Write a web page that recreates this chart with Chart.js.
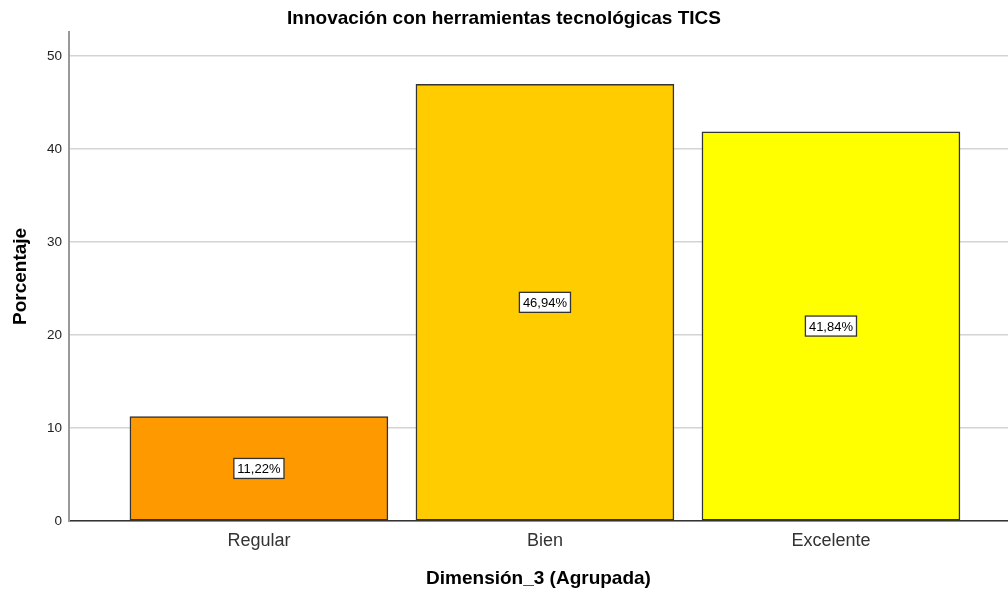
<!DOCTYPE html>
<html>
<head>
<meta charset="utf-8">
<script src="https://cdn.jsdelivr.net/npm/chart.js@4"></script>
<style>
  html, body { margin: 0; padding: 0; background: #fff; }
  #wrap { width: 1008px; height: 591px; }
</style>
</head>
<body>
<div id="wrap"><canvas id="myChart"></canvas></div>
<script>
  const categories = ['Regular', 'Bien', 'Excelente'];
  const percentages = [11.22, 46.94, 41.84];
  const barColors = ['#FF9900', '#FFCC00', '#FFFF00'];
  const yTicks = [0, 10, 20, 30, 40, 50];

  const fontFamily = 'Arial, "Liberation Sans", sans-serif';

  // labels in white boxes in the middle of each bar
  const boxLabels = {
    id: 'boxLabels',
    afterDatasetsDraw(chart) {
      const ctx = chart.ctx;
      const meta = chart.getDatasetMeta(0);
      ctx.save();
      ctx.font = '13px ' + fontFamily;
      ctx.textAlign = 'center';
      ctx.textBaseline = 'middle';
      meta.data.forEach(function (bar, i) {
        const text = percentages[i].toFixed(2).replace('.', ',') + '%';
        const cx = bar.x;
        const cy = (bar.y + bar.base) / 2;
        const w = ctx.measureText(text).width + 7;
        const h = 20;
        ctx.fillStyle = '#fff';
        ctx.fillRect(cx - w / 2, cy - h / 2, w, h);
        ctx.strokeStyle = '#333';
        ctx.lineWidth = 1.3;
        ctx.strokeRect(cx - w / 2, cy - h / 2, w, h);
        ctx.fillStyle = '#000';
        ctx.fillText(text, cx, cy + 1);
      });
      ctx.restore();
    }
  };

  const data = {
    datasets: [{
      label: 'Porcentaje',
      data: categories.map((c, i) => ({ x: i, y: percentages[i] })),
      backgroundColor: barColors,
      borderColor: '#333',
      borderWidth: 1.5,
      borderSkipped: false,
      barThickness: 258
    }]
  };

  const config = {
    type: 'bar',
    data: data,
    options: {
      responsive: true,
      maintainAspectRatio: false,
      animation: false,
      layout: { padding: 0 },
      plugins: {
        legend: { display: false },
        tooltip: { enabled: false },
        title: {
          display: true,
          text: 'Innovación con herramientas tecnológicas TICS',
          color: '#000',
          font: { family: fontFamily, size: 19, weight: 'bold' },
          padding: { top: 7, bottom: 2 }
        }
      },
      scales: {
        x: {
          type: 'linear',
          offset: false,
          min: -0.664,
          max: 2.619,
          afterBuildTicks(scale) {
            scale.ticks = categories.map((c, i) => ({ value: i }));
          },
          afterFit(scale) { scale.height = 70; },
          ticks: {
            color: '#333',
            font: { family: fontFamily, size: 18 },
            padding: 9,
            callback: (v) => categories[v]
          },
          grid: { display: false, drawTicks: false, offset: false },
          border: { display: true, color: '#333', width: 1.5 },
          title: {
            display: true,
            text: 'Dimensión_3 (Agrupada)',
            color: '#000',
            font: { family: fontFamily, size: 19, weight: 'bold' },
            padding: { top: 0, bottom: 1 }
          }
        },
        y: {
          min: 0,
          max: 52.6,
          afterBuildTicks(scale) {
            scale.ticks = yTicks.map(v => ({ value: v }));
          },
          afterFit(scale) { scale.width = 69; },
          ticks: {
            color: '#222',
            font: { family: fontFamily, size: 13.5 },
            padding: 7
          },
          grid: { color: '#d4d4d4', lineWidth: 1.5, drawTicks: false },
          border: { display: true, color: '#999', width: 2 },
          title: {
            display: true,
            text: 'Porcentaje',
            color: '#000',
            font: { family: fontFamily, size: 19, weight: 'bold' },
            padding: { top: 9, bottom: 10 }
          }
        }
      }
    },
    plugins: [boxLabels]
  };

  const myChart = new Chart(document.getElementById('myChart'), config);
</script>
</body>
</html>
